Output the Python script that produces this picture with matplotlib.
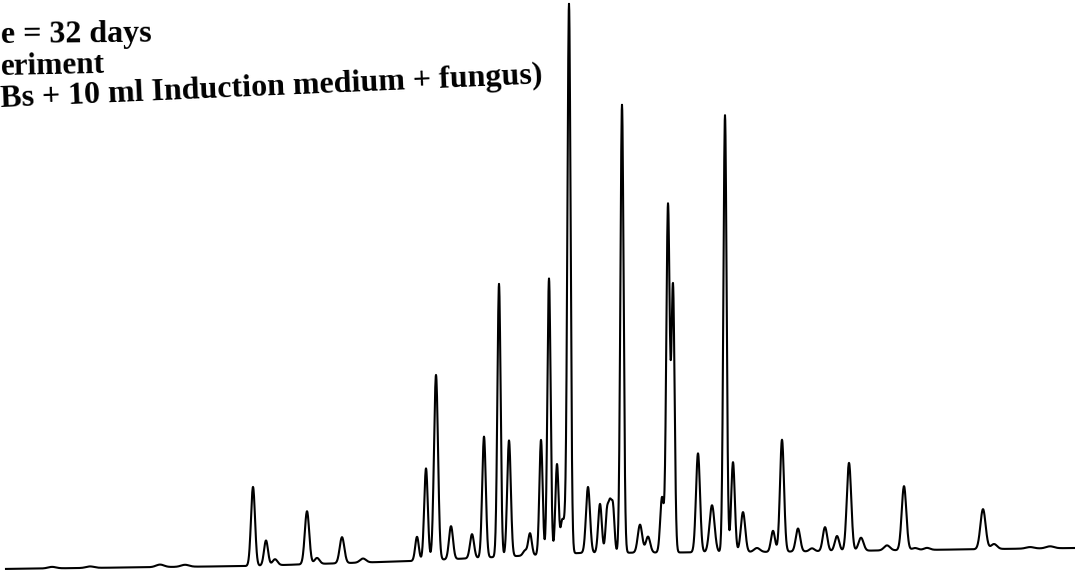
import numpy as np
import matplotlib.pyplot as plt

# peak retention positions, heights above baseline and widths (sigma)
peak_pos = [52, 90, 160, 185,
            253, 266, 275, 307, 317, 342, 363,
            417, 426, 436, 451, 472, 484, 499, 509, 525, 530,
            541, 549, 557, 562, 565, 569, 588, 600, 607, 610, 613,
            622, 640, 648, 662, 668, 673, 698, 712, 725, 733, 743, 757,
            773, 782, 798, 812, 825, 837, 849, 861, 887, 904, 915, 927,
            983, 994, 1030, 1050]
peak_height = [1.5, 1.5, 2.5, 2,
               79, 25, 6, 53, 6, 26, 4,
               24, 92, 185, 33, 24, 121, 273, 116, 5, 22,
               115, 276, 90, 30, 25, 549, 66, 49, 40, 43, 44,
               448, 28, 16, 55, 347, 265, 99, 47, 437, 90, 40, 4,
               21, 112, 23, 3, 24, 15, 88, 13, 5, 64, 2, 2,
               40, 5, 1.5, 2]
peak_width = [4, 4, 4, 4,
              2.0, 2.0, 2.5, 2.2, 2.5, 2.3, 3,
              1.8, 1.8, 2.0, 2.0, 2.0, 1.8, 1.6, 1.8, 2, 1.8,
              1.6, 1.6, 1.6, 1.5, 1.5, 1.6, 2.0, 1.8, 1.5, 1.5, 1.5,
              1.6, 2.2, 2.2, 1.8, 1.7, 1.6, 2.0, 2.5, 1.6, 1.8, 2.2, 3,
              2.0, 2.0, 2.2, 2.5, 2.2, 2.2, 2.2, 2.5, 3, 2.3, 3, 3,
              2.6, 3, 4, 4]

# baseline drift read at a few positions
base_pos = [0, 250, 413, 580, 760, 1075]
base_level = [2, 5, 10, 18, 19, 23]

t = np.arange(6, 1075.5, 0.25)
signal = np.interp(t, base_pos, base_level)
for p, h, w in zip(peak_pos, peak_height, peak_width):
    signal = signal + h * np.exp(-0.5 * ((t - p) / w) ** 2)

fig = plt.figure(figsize=(10.75, 5.71), dpi=100)
ax = fig.add_axes([0, 0, 1, 1])
ax.plot(t, signal, color='black', lw=1.5)
ax.set_xlim(0, 1075)
ax.set_ylim(0, 571)
ax.axis('off')

font = dict(family='Liberation Serif', fontweight='bold', color='black',
            ha='left', va='baseline', rotation_mode='anchor')
ax.text(1, 528, 'e = 32 days', fontsize=23, rotation=0.5, **font)
ax.text(1, 496, 'eriment', fontsize=22.5, rotation=1.2, **font)
ax.text(1, 464, 'Bs + 10 ml Induction medium + fungus)', fontsize=23, rotation=2.5, **font)

plt.savefig('out.png', dpi=100)
